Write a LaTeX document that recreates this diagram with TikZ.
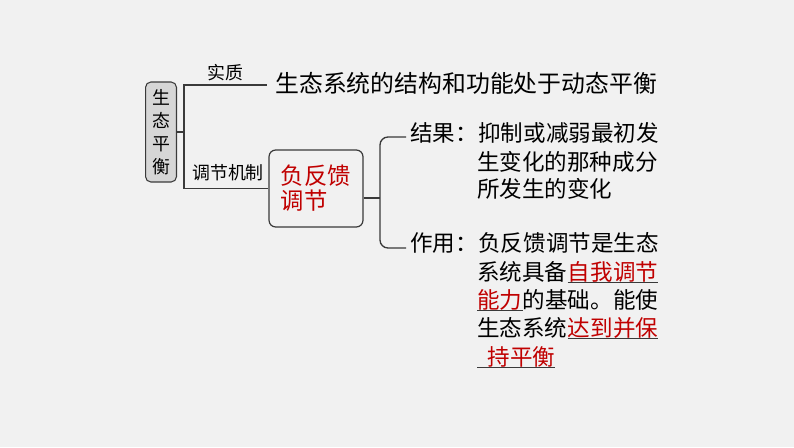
\documentclass[tikz,border=0pt]{standalone}
\usepackage{fontspec}
\setmainfont{Noto Sans CJK SC}
\usetikzlibrary{positioning}

\definecolor{bgcol}{HTML}{F1F1F1}
\definecolor{linecol}{HTML}{3A3A3A}
\definecolor{keyred}{HTML}{C00000}
\definecolor{rootfill}{HTML}{D6D6D6}

\begin{document}
\begin{tikzpicture}[x=0.0265cm, y=-0.0265cm,
    line/.style={draw=linecol, line width=1pt},
    ul/.style={draw=linecol, line width=0.9pt},
    txt/.style={anchor=west, inner sep=0pt, font=\fontsize{17}{20}\selectfont},
    key/.style={txt, text=keyred},
    lbl/.style={inner sep=0pt, font=\fontsize{13.5}{16}\selectfont},
    rootbox/.style={draw=linecol, fill=rootfill, rounded corners=4pt, line width=0.8pt,
        minimum width=0.82cm, minimum height=2.65cm, inner sep=0pt, align=center,
        font=\fontsize{13.5}{17.3}\selectfont},
    fbbox/.style={draw=linecol, rounded corners=5pt, line width=0.9pt,
        minimum width=2.49cm, minimum height=2.04cm, align=left, text=keyred,
        font=\fontsize{17.6}{18.9}\selectfont}
]
    \fill[bgcol] (0,0) rectangle (794,447);

    % left part
    \node[rootbox] (root) at (161,132) {生\\态\\平\\衡};
    \node[fbbox] (fb) at (316,188.5) {负反馈\\调节};
    \node[lbl] (lsz) at (225,73) {实质};
    \node[lbl] (ltj) at (228,173) {调节机制};
    \node[txt, font=\fontsize{18}{20}\selectfont] (essence) at (275,83) {生态系统的结构和功能处于动态平衡};

    \coordinate (j1) at (184,132);
    \coordinate (e1) at (267,85);
    \draw[line] (root.east) -- (j1) |- (e1);
    \draw[line] (j1) |- (fb.west);

    % bracket
    \coordinate (j2) at (380,198);
    \coordinate (b1) at (406,137);
    \coordinate (b2) at (406,248);
    \draw[line] (fb.east |- j2) -- (j2);
    \draw[line, rounded corners=6pt] (b1) -| (j2) |- (b2);

    % result
    \node[txt] (res) at (410,133) {结果：};
    \node[txt, right=0pt of res] (r1) {抑制或减弱最初发};
    \node[txt] (r2) at (477,162) {生变化的那种成分};
    \node[txt] (r3) at (477,189) {所发生的变化};

    % function
    \node[txt] (use) at (410,243) {作用：};
    \node[txt, right=0pt of use] (u1) {负反馈调节是生态};
    \node[txt] (u2a) at (477,272) {系统具备};
    \node[key, right=0pt of u2a] (u2b) {自我调节};
    \node[key] (u3a) at (477,300) {能力};
    \node[txt, right=0pt of u3a] (u3b) {的基础。能使};
    \node[txt] (u4a) at (477,328) {生态系统};
    \node[key, right=0pt of u4a] (u4b) {达到并保};
    \node[key] (u5) at (477,357) {\hspace{0.27cm}持平衡\hspace{0.27cm}};

    \draw[ul] (u2b.south west) -- (u2b.south east);
    \draw[ul] (u3a.south west) -- (u3a.south east);
    \draw[ul] (u4b.south west) -- (u4b.south east);
    \draw[ul] (u5.south west) -- (u5.south east);
\end{tikzpicture}
\end{document}
